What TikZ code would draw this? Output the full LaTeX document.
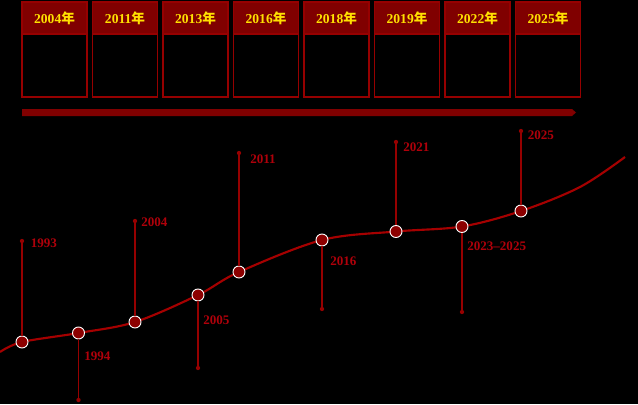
\documentclass[tikz,border=0pt]{standalone}
\usepackage{fontspec}
\setmainfont{Liberation Serif}
\newfontfamily\cjk{Noto Sans CJK SC}
\definecolor{hdrred}{RGB}{128,0,0}
\definecolor{edgered}{RGB}{150,0,0}
\definecolor{curvered}{RGB}{165,0,0}
\definecolor{stemred}{RGB}{150,0,0}
\definecolor{labred}{RGB}{175,0,10}
\definecolor{dotred}{RGB}{140,0,0}
\definecolor{gold}{RGB}{255,225,0}
\begin{document}
\begin{tikzpicture}[x=0.75pt,y=-0.75pt,
  box/.style={draw=edgered,line width=0.9pt},
  hdr/.style={draw=edgered,fill=hdrred,line width=0.9pt},
  hdrtext/.style={text=gold,font=\bfseries\fontsize{10.2}{12}\selectfont,inner sep=0pt},
  yr/.style={text=labred,font=\bfseries\fontsize{9.8}{11}\selectfont,inner sep=0pt,anchor=west},
  pt/.style={circle,fill=dotred,draw=white,line width=0.7pt,minimum size=9pt,inner sep=0pt},
  stem/.style={draw=stemred,line width=0.9pt},
  tip/.style={circle,fill=stemred,minimum size=3.2pt,inner sep=0pt}]
\useasboundingbox[fill=black] (0,0) rectangle (638,404);
% top year boxes
\foreach \i/\y in {0/2004,1/2011,2/2013,3/2016,4/2018,5/2019,6/2022,7/2025}{
  \pgfmathsetmacro{\xl}{22+70.5*\i}
  \pgfmathsetmacro{\xr}{\xl+65}
  \draw[box] (\xl,2) rectangle (\xr,97);
  \draw[hdr] (\xl,2) rectangle (\xr,34);
  \node[hdrtext] (h\i) at ({(\xl+\xr)/2},18.5) {\y{\cjk\bfseries 年}};
}
% bar
\fill[hdrred] (22,109) -- (572,109) -- (576,112.5) -- (572,116) -- (22,116) -- cycle;
% curve
\draw[curvered,line width=1.6pt] plot[smooth,tension=0.55] coordinates {
 (0,352) (22,342) (78.5,333) (135,322) (198,295) (239,272) (322,240) (396,231.5) (462,226.5) (521,211) (580,187) (625,157)};
% stems endpoints
\coordinate (e1) at (22,241);
\coordinate (e2) at (78.5,400);
\coordinate (e3) at (135,221);
\coordinate (e4) at (198,368);
\coordinate (e5) at (239,153);
\coordinate (e6) at (322,309);
\coordinate (e7) at (396,142);
\coordinate (e8) at (462,312);
\coordinate (e9) at (521,131);
% points
\node[pt] (p1) at (22,342) {};
\node[pt] (p2) at (78.5,333) {};
\node[pt] (p3) at (135,322) {};
\node[pt] (p4) at (198,295) {};
\node[pt] (p5) at (239,272) {};
\node[pt] (p6) at (322,240) {};
\node[pt] (p7) at (396,231.5) {};
\node[pt] (p8) at (462,226.5) {};
\node[pt] (p9) at (521,211) {};
\foreach \k in {1,...,9}{
  \draw[stem] (p\k) -- (e\k);
  \node[tip] at (e\k) {};
}
% labels
\node[yr] (l1) at (30.5,243) {1993};
\node[yr] (l2) at (84,356) {1994};
\node[yr] (l3) at (141,222.5) {2004};
\node[yr] (l4) at (203,320) {2005};
\node[yr] (l5) at (250,159) {2011};
\node[yr] (l6) at (330,261) {2016};
\node[yr] (l7) at (403,147) {2021};
\node[yr] (l8) at (467,246) {2023--2025};
\node[yr] (l9) at (527.5,135.5) {2025};
\end{tikzpicture}
\end{document}
